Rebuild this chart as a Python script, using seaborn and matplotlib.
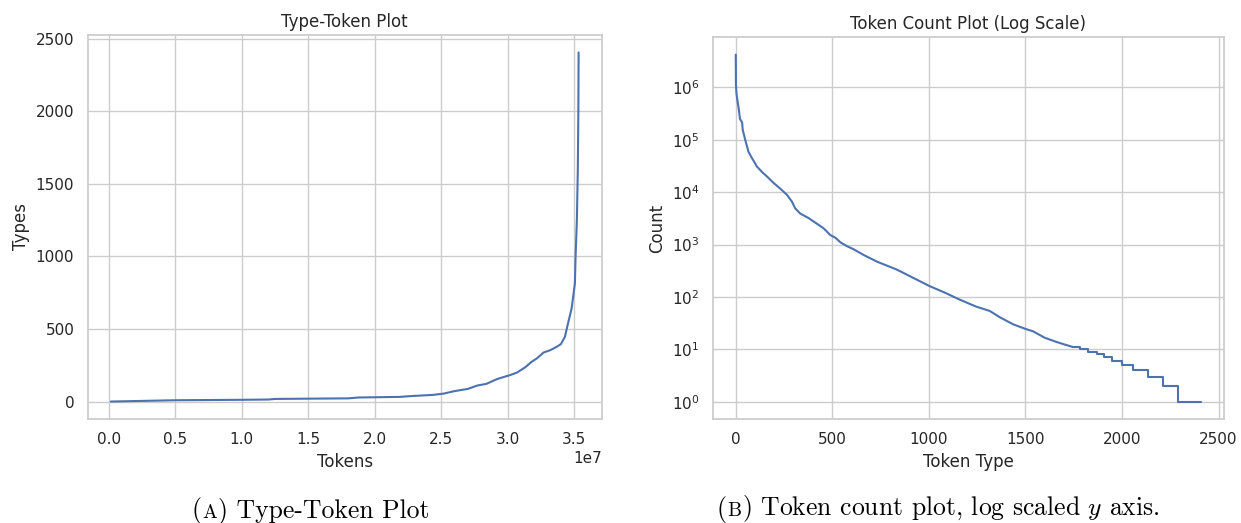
import matplotlib
matplotlib.use("Agg")
import matplotlib.pyplot as plt
import seaborn as sns
from matplotlib.offsetbox import TextArea, HPacker, AnnotationBbox

# ---------------- data ----------------
# Type-Token plot: cumulative tokens vs number of types
tt_tokens = [0.015e7, 0.5e7, 1.0e7, 1.2e7, 1.25e7, 1.8e7, 1.88e7, 2.19e7, 2.26e7,
             2.44e7, 2.52e7, 2.59e7, 2.62e7, 2.70e7, 2.77e7, 2.84e7, 2.92e7, 3.02e7,
             3.07e7, 3.13e7, 3.18e7, 3.22e7, 3.27e7, 3.32e7, 3.37e7, 3.40e7, 3.43e7,
             3.45e7, 3.48e7, 3.50e7, 3.505e7, 3.51e7, 3.52e7, 3.527e7, 3.531e7, 3.533e7]
tt_types = [0, 9, 12, 14, 18, 22, 28, 32, 37,
            46, 55, 70, 75, 87, 110, 122, 155, 183,
            200, 235, 274, 298, 338, 354, 378, 396, 446,
            526, 640, 778, 812, 995, 1250, 1600, 2000, 2405]

# Token count plot: rank of token type vs count (smooth head)
tc_rank = [0, 1, 4, 9, 15, 22, 26, 33, 36, 49, 66, 83, 92, 109, 135, 161, 196, 230,
           265, 291, 308, 334, 377, 420, 455, 490, 516, 542, 576, 611, 663, 732, 836,
           920, 1002, 1084, 1159, 1246, 1315, 1367, 1436, 1500, 1540, 1600, 1661,
           1704, 1747]
tc_count = [4.22e6, 1.12e6, 7.4e5, 5.5e5, 4.0e5, 2.5e5, 2.35e5, 2.15e5, 1.55e5, 1.0e5,
            5.9e4, 4.5e4, 4.0e4, 3.1e4, 2.45e4, 2.0e4, 1.5e4, 1.17e4, 8900, 6600, 4900,
            3900, 3200, 2500, 2040, 1510, 1350, 1100, 930, 810, 630, 470, 330, 230, 162,
            120, 89, 65, 54, 41, 30, 24.5, 22, 16.6, 13.8, 12.3, 11]
# integer-count tail (step segments)
tail_rank = [1747, 1785, 1825, 1869, 1907, 1950, 2002, 2059, 2137, 2215, 2292, 2408]
tail_count = [11, 10, 9, 8, 7, 6, 5, 4, 3, 2, 1, 1]

# ---------------- plotting ----------------
sns.set_theme(style="whitegrid")
line_color = sns.color_palette("deep")[0]

W, H = 1241, 523
fig = plt.figure(figsize=(W / 100, H / 100), dpi=100)

ax1 = fig.add_axes([87.5 / W, (H - 419) / H, (602 - 87.5) / W, (419 - 35) / H])
ax2 = fig.add_axes([712.5 / W, (H - 419) / H, (1224 - 712.5) / W, (419 - 37.3) / H])

sns.lineplot(x=tt_tokens, y=tt_types, ax=ax1, color=line_color)
ax1.set_title("Type-Token Plot")
ax1.set_xlabel("Tokens")
ax1.set_ylabel("Types")

sns.lineplot(x=tc_rank, y=tc_count, ax=ax2, color=line_color)
sns.lineplot(x=tail_rank, y=tail_count, ax=ax2, color=line_color,
             drawstyle="steps-post")
ax2.set_yscale("log")
ax2.set_title("Token Count Plot (Log Scale)")
ax2.set_xlabel("Token Type")
ax2.set_ylabel("Count")


def caption(x_px, y_px, label, rest):
    big = dict(family="cmr10", size=18.5, color="black", math_fontfamily="cm")
    small = dict(family="cmr10", size=14.2, color="black")
    parts = [TextArea("(", textprops=big),
             TextArea(label, textprops=small),
             TextArea(rest, textprops=big)]
    pack = HPacker(children=parts, align="baseline", pad=0, sep=0.6)
    ab = AnnotationBbox(pack, (x_px, y_px), xycoords="figure pixels",
                        box_alignment=(0, 0), frameon=False, pad=0)
    fig.add_artist(ab)


caption(191.5, -1.5, "A", ") Type-Token Plot")
caption(716.5, -1.5, "B", r") Token count plot, log scaled $y$ axis.")

fig.savefig("out.png", dpi=100)
